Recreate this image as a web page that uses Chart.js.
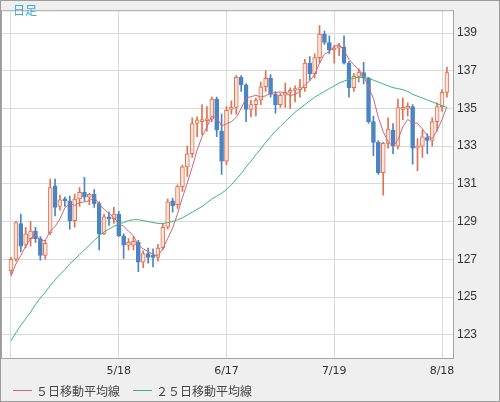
<!DOCTYPE html>
<html>
<head>
<meta charset="utf-8">
<script src="https://cdn.jsdelivr.net/npm/chart.js@4.4.1/dist/chart.umd.min.js"></script>
<style>
html, body { margin: 0; padding: 0; background: #efefef; }
#wrap { position: relative; width: 500px; height: 402px; }
#title { position: absolute; left: 13px; top: 1px; font: 12px "Noto Sans CJK JP"; color: #3aaedc; }
#legend { position: absolute; left: 13px; top: 382px; display: flex; font: 12px "Noto Sans CJK JP"; color: #444; }
#legend .item { display: flex; align-items: center; }
#legend .item:first-child { width: 120px; }
#legend .line { width: 19px; height: 1px; margin-right: 4px; }
</style>
</head>
<body>
<div id="wrap">
  <canvas id="chart" width="500" height="402"></canvas>
  <div id="title">日足</div>
  <div id="legend"></div>
</div>
<script>
// daily candles, 2022-04-18 .. 2022-08-19 (index 0..89)
var opens = [126.4,127.0,128.9,127.75,128.1,128.5,128.1,127.2,128.4,130.9,
  129.8,130.15,130.1,129.05,130.2,130.55,130.3,130.45,129.95,128.35,
  129.25,129.15,129.4,128.25,127.75,127.75,127.9,126.85,127.3,127.15,
  127.1,127.6,128.7,130.1,129.9,130.85,131.9,132.6,134.2,134.3,
  134.35,134.45,135.5,133.8,132.2,134.95,135.05,136.65,136.25,134.95,
  135.2,135.45,136.15,136.6,135.75,135.2,135.7,135.85,135.95,136.0,
  136.1,137.4,136.85,137.7,138.95,138.5,138.1,138.2,138.25,137.4,
  136.1,136.7,136.9,136.6,134.3,133.2,131.6,133.15,133.85,133.0,
  134.95,135.0,135.1,132.9,133.0,133.45,133.3,134.3,135.1,135.85];

var highs = [127.1,129.0,129.4,128.7,129.0,128.7,128.2,128.0,131.25,131.25,
  130.4,130.3,130.35,130.45,130.8,131.35,130.5,130.7,130.05,129.4,
  129.5,129.75,129.55,128.35,128.1,128.2,128.0,127.45,127.6,127.55,
  127.8,128.9,130.2,130.25,130.95,132.0,133.0,134.5,134.55,135.2,
  135.1,135.6,135.6,134.7,135.1,135.4,136.75,136.75,136.3,135.45,
  135.55,136.4,137.0,136.8,135.9,135.8,136.35,136.1,136.2,136.55,
  137.6,137.75,137.9,139.4,139.1,138.85,138.35,138.45,138.85,137.5,
  136.85,137.1,137.45,136.65,134.6,133.3,133.2,134.5,134.2,135.5,
  135.55,135.3,135.2,133.4,133.85,133.65,134.5,135.3,136.0,137.2];

var lows = [126.2,126.9,127.4,127.6,127.7,127.9,126.95,127.0,128.3,129.3,
  129.6,129.8,128.6,128.7,129.8,130.1,129.9,129.75,127.5,128.3,
  128.8,128.9,128.2,127.05,127.5,127.5,126.35,126.55,126.8,126.6,
  126.9,127.5,128.6,129.5,129.7,130.6,131.4,132.4,133.5,133.6,
  133.8,134.3,133.5,131.5,132.0,134.7,134.7,135.9,134.3,134.55,
  134.6,135.2,135.9,135.6,134.75,135.05,135.05,135.0,135.35,135.6,
  135.9,136.5,136.6,137.4,138.4,137.9,137.4,137.8,137.35,135.6,
  135.9,136.4,136.3,134.2,132.5,131.5,130.4,132.9,132.6,132.85,
  134.4,134.6,132.05,131.7,132.4,132.6,133.0,133.8,134.85,135.6];

var closes = [127.0,128.95,127.7,128.35,128.5,128.1,127.2,127.85,130.8,129.75,
  130.15,130.1,129.05,130.2,130.55,130.3,130.45,129.95,128.35,129.25,
  129.15,129.4,128.25,127.75,127.9,127.95,126.85,127.3,127.1,127.1,
  127.6,128.7,130.05,129.85,130.85,131.9,132.6,134.2,134.4,134.4,
  134.45,135.5,133.85,132.2,134.9,135.05,136.65,136.25,134.95,135.2,
  135.45,136.15,136.6,135.75,135.2,135.7,135.85,135.95,136.0,136.1,
  137.4,136.85,137.7,138.95,138.5,138.1,138.2,138.2,137.4,136.1,
  136.7,136.9,136.6,134.3,133.2,131.6,133.15,133.9,133.0,135.05,
  135.05,135.1,132.9,133.0,133.5,133.3,134.3,135.1,135.85,136.9];

var ma5 = [126.1,126.75,127.2,127.7,128.1,128.32,127.97,128.0,128.49,128.74,
  129.15,129.73,129.97,129.85,130.01,130.04,130.11,130.29,129.92,129.66,
  129.43,129.22,128.88,128.76,128.49,128.25,127.74,127.55,127.42,127.26,
  127.19,127.56,128.11,128.66,129.41,130.27,131.05,131.88,132.79,133.5,
  134.01,134.59,134.52,134.08,134.18,134.3,134.53,135.01,135.56,135.62,
  135.7,135.6,135.67,135.83,135.83,135.88,135.82,135.69,135.74,135.92,
  136.26,136.46,136.81,137.4,137.88,138.02,138.29,138.39,138.08,137.6,
  137.32,137.06,136.74,136.12,135.54,134.52,133.77,133.23,132.97,133.34,
  134.03,134.42,134.22,134.22,133.91,133.56,133.4,133.84,134.41,135.09];

var ma25 = [122.67,123.1,123.5,123.85,124.2,124.6,124.95,125.25,125.6,125.9,
  126.2,126.45,126.75,127.0,127.25,127.5,127.75,128.0,128.25,128.45,
  128.6,128.75,128.87,128.95,129.05,129.1,129.1,129.05,129.0,128.95,
  128.9,128.9,128.95,129.0,129.1,129.2,129.35,129.5,129.65,129.8,
  130.0,130.2,130.35,130.5,130.7,130.95,131.25,131.55,131.9,132.2,
  132.55,132.85,133.2,133.5,133.8,134.05,134.3,134.55,134.8,135.0,
  135.2,135.4,135.6,135.75,135.9,136.05,136.2,136.35,136.45,136.55,
  136.6,136.65,136.65,136.6,136.5,136.4,136.3,136.2,136.1,136.05,
  136.0,135.9,135.75,135.65,135.55,135.45,135.35,135.25,135.15,135.05];

var tickPositions = [0, 22, 44, 66, 88];
var tickLabels = ['', '5/18', '6/17', '7/19', '8/18'];
var priceTicks = [123, 125, 127, 129, 131, 133, 135, 137, 139];

var upLine = '#e2714f', upFill = '#fde4db', downColor = '#4a84c4';
var idx = closes.map(function (c, i) { return i; });
var isUp = idx.map(function (i) { return closes[i] >= opens[i]; });

// grey surround, white plot, thin frames
var framePlugin = {
  id: 'frame',
  beforeDraw: function (chart) {
    var ctx = chart.ctx, a = chart.chartArea;
    ctx.save();
    ctx.fillStyle = '#efefef';
    ctx.fillRect(0, 0, chart.width, chart.height);
    ctx.fillStyle = '#ffffff';
    ctx.fillRect(a.left, a.top, a.right - a.left, a.bottom - a.top);
    ctx.restore();
  },
  afterDraw: function (chart) {
    var ctx = chart.ctx, a = chart.chartArea;
    ctx.save();
    ctx.lineWidth = 1;
    ctx.strokeStyle = '#a4a4a4';
    ctx.strokeRect(a.left + 0.5, a.top + 0.5, a.right - a.left - 1, a.bottom - a.top - 1);
    ctx.strokeStyle = '#9c9c9c';
    ctx.strokeRect(0.5, 0.5, chart.width - 1, chart.height - 1);
    ctx.restore();
  }
};

var chart = new Chart(document.getElementById('chart').getContext('2d'), {
  type: 'bar',
  data: {
    datasets: [{
      label: 'wick',
      data: idx.map(function (i) { return { x: i, y: [lows[i], highs[i]] }; }),
      backgroundColor: idx.map(function (i) { return isUp[i] ? upLine : downColor; }),
      barThickness: 1,
      grouped: false,
      order: 3
    }, {
      label: 'body',
      data: idx.map(function (i) { return { x: i, y: [opens[i], closes[i]] }; }),
      backgroundColor: idx.map(function (i) { return isUp[i] ? upFill : downColor; }),
      borderColor: idx.map(function (i) { return isUp[i] ? upLine : downColor; }),
      borderWidth: 1,
      borderSkipped: false,
      barThickness: 4,
      minBarLength: 2,
      grouped: false,
      order: 2
    }, {
      type: 'line',
      label: '５日移動平均線',
      data: idx.map(function (i) { return { x: i, y: ma5[i] }; }),
      borderColor: '#c8687e',
      backgroundColor: '#c8687e',
      borderWidth: 1,
      pointRadius: 0,
      order: 1
    }, {
      type: 'line',
      label: '２５日移動平均線',
      data: idx.map(function (i) { return { x: i, y: ma25[i] }; }),
      borderColor: '#3cb57c',
      backgroundColor: '#3cb57c',
      borderWidth: 1,
      pointRadius: 0,
      order: 0
    }]
  },
  options: {
    responsive: false,
    animation: false,
    events: [],
    layout: { padding: { left: 1, top: 0, right: 0, bottom: 0 } },
    plugins: { legend: { display: false }, tooltip: { enabled: false } },
    scales: {
      x: {
        type: 'linear',
        min: -2.04,
        max: 90.45,
        offset: false,
        afterBuildTicks: function (scale) {
          scale.ticks = tickPositions.map(function (v) { return { value: v }; });
        },
        afterFit: function (scale) { scale.height = 43; },
        grid: { color: '#dadada', drawTicks: false, offset: false },
        border: { display: false },
        ticks: {
          autoSkip: false,
          maxRotation: 0,
          padding: 6,
          color: '#333',
          font: { family: 'DejaVu Sans', size: 11 },
          callback: function (value) {
            var k = tickPositions.indexOf(value);
            return k >= 0 ? tickLabels[k] : '';
          }
        }
      },
      y: {
        position: 'right',
        min: 121.712,
        max: 140.211,
        afterBuildTicks: function (scale) {
          scale.ticks = priceTicks.map(function (v) { return { value: v }; });
        },
        afterFit: function (scale) { scale.width = 46; },
        grid: { color: '#dadada', drawTicks: false },
        border: { display: false },
        ticks: {
          padding: 3,
          color: '#333',
          font: { family: 'Liberation Sans', size: 12 }
        }
      }
    }
  },
  plugins: [framePlugin]
});

// html legend for the two moving averages
var legendEl = document.getElementById('legend');
chart.data.datasets.forEach(function (ds) {
  if (ds.type !== 'line') return;
  var item = document.createElement('div');
  item.className = 'item';
  var line = document.createElement('span');
  line.className = 'line';
  line.style.background = ds.borderColor;
  var text = document.createElement('span');
  text.textContent = ds.label;
  item.appendChild(line);
  item.appendChild(text);
  legendEl.appendChild(item);
});
</script>
</body>
</html>
